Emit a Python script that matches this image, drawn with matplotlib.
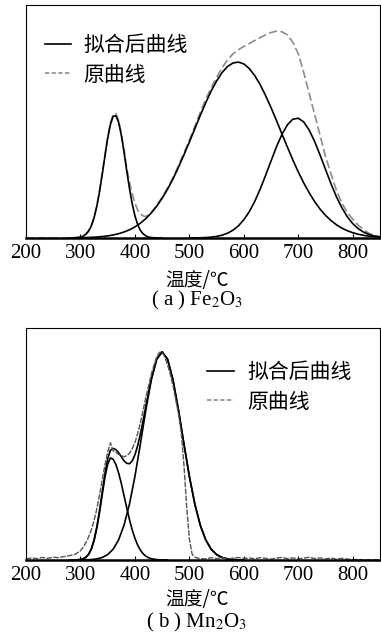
import numpy as np
import matplotlib
matplotlib.use("Agg")
import matplotlib.pyplot as plt

plt.rcParams['font.family'] = ['Liberation Serif', 'Noto Sans CJK SC']
plt.rcParams['mathtext.fontset'] = 'stix'

# ---------------- (a) Fe2O3 ----------------
# original curve (gray dashed)
orig_a_x = [200, 210, 220, 230, 240, 250, 260, 270, 280, 290,
            300, 305, 310, 315, 320, 325, 330, 335, 340, 345, 350, 355, 360, 365, 370,
            375, 380, 385, 390, 395, 400, 405, 410, 415, 420, 425, 430, 435, 440,
            450, 460, 470, 480, 490, 500, 510, 520, 530, 540, 550, 560, 570, 580, 590,
            600, 610, 620, 630, 640, 650, 660, 670, 680, 690, 700, 710, 720, 730, 740,
            750, 760, 770, 780, 790, 800, 810, 820, 830, 840, 850]
orig_a_y = [0, 0, 0, 0, 0, 0, 0, 0, 0.001, 0.002,
            0.005, 0.01, 0.018, 0.032, 0.055, 0.09, 0.14, 0.205, 0.28, 0.36, 0.435, 0.495, 0.53, 0.535, 0.505,
            0.45, 0.38, 0.30, 0.24, 0.19, 0.15, 0.12, 0.104, 0.095, 0.092, 0.1, 0.11, 0.124, 0.14,
            0.175, 0.215, 0.26, 0.31, 0.365, 0.42, 0.48, 0.54, 0.595, 0.645, 0.69, 0.73, 0.765, 0.79, 0.808,
            0.822, 0.835, 0.848, 0.86, 0.872, 0.882, 0.888, 0.885, 0.872, 0.84, 0.79, 0.71, 0.62, 0.53, 0.44,
            0.35, 0.275, 0.205, 0.15, 0.11, 0.08, 0.055, 0.035, 0.02, 0.01, 0.005]

# fitted peaks (black)
pk1_a_x = [280, 285, 290, 295, 300, 305, 310, 315, 320, 325, 330, 335, 340, 345, 350, 355, 360,
           365, 370, 375, 380, 385, 390, 395, 400, 405, 410, 415, 420, 425, 430, 435, 440, 450]
pk1_a_y = [0, 0.0003, 0.0007, 0.0016, 0.0037, 0.0079, 0.016, 0.0296, 0.052, 0.0868, 0.135, 0.198,
           0.273, 0.352, 0.428, 0.487, 0.522, 0.525, 0.497, 0.441, 0.368, 0.288, 0.212, 0.147,
           0.0954, 0.058, 0.033, 0.018, 0.009, 0.0043, 0.002, 0.001, 0, 0]

pk2_a_x = [300, 310, 320, 330, 340, 350, 360, 370, 380, 390, 400, 410, 420, 430, 440, 450,
           460, 470, 480, 490, 500, 510, 520, 530, 540, 550, 560, 570, 580, 590, 600, 610,
           620, 630, 640, 650, 660, 670, 680, 690, 700, 710, 720, 730, 740, 750, 760, 770,
           780, 790, 800, 810, 820, 830, 840, 850]
pk2_a_y = [0.0012, 0.0018, 0.0028, 0.0042, 0.0062, 0.009, 0.013, 0.0184, 0.0257, 0.0353,
           0.0477, 0.0635, 0.0832, 0.1074, 0.1364, 0.1705, 0.21, 0.254, 0.304, 0.357, 0.412,
           0.469, 0.526, 0.58, 0.631, 0.674, 0.71, 0.736, 0.751, 0.755, 0.747, 0.727, 0.697,
           0.658, 0.611, 0.559, 0.504, 0.446, 0.39, 0.335, 0.283, 0.236, 0.194, 0.156, 0.124,
           0.097, 0.075, 0.0568, 0.0424, 0.0312, 0.0226, 0.0161, 0.0113, 0.0078, 0.0053, 0.0035]

pk3_a_x = [500, 510, 520, 530, 540, 550, 560, 570, 580, 590, 600, 610, 620, 630, 640, 650,
           660, 670, 680, 690, 700, 710, 720, 730, 740, 750, 760, 770, 780, 790, 800, 810,
           820, 830, 840, 850]
pk3_a_y = [0.0002, 0.0005, 0.001, 0.0019, 0.0037, 0.0068, 0.012, 0.0205, 0.0333, 0.052,
           0.0785, 0.113, 0.157, 0.21, 0.269, 0.331, 0.392, 0.445, 0.486, 0.51, 0.514, 0.498,
           0.463, 0.414, 0.356, 0.294, 0.233, 0.177, 0.13, 0.091, 0.0617, 0.04, 0.025, 0.015,
           0.0086, 0.0048]

# ---------------- (b) Mn2O3 ----------------
orig_b_x = [200, 210, 220, 230, 240, 250, 260, 270, 280, 290,
            300, 305, 310, 315, 320, 325, 330, 335, 340, 345, 350, 355, 360, 365, 370,
            375, 380, 385, 390, 395, 400, 405, 410, 415, 420, 425, 430, 435, 440, 445,
            450, 455, 460, 465, 470, 475, 480, 485, 490, 495, 500, 505, 510, 515, 520,
            530, 540, 550, 560, 570, 580, 590, 600, 610, 620, 630, 640, 650, 660, 670,
            680, 690, 700, 710, 720, 730, 740, 750, 760, 770, 780, 790, 800, 810, 820,
            830, 840, 850]
orig_b_y = [0.004, 0.009, 0.006, 0.011, 0.007, 0.012, 0.01, 0.015, 0.019, 0.024,
            0.04, 0.055, 0.075, 0.1, 0.13, 0.17, 0.22, 0.28, 0.345, 0.41, 0.465, 0.505, 0.47, 0.465, 0.455,
            0.45, 0.445, 0.45, 0.46, 0.48, 0.505, 0.545, 0.59, 0.645, 0.70, 0.75, 0.80, 0.84, 0.875, 0.895,
            0.895, 0.875, 0.84, 0.80, 0.75, 0.69, 0.63, 0.55, 0.41, 0.23, 0.09, 0.025, 0.012, 0.008, 0.006,
            0.005, 0.01, 0.006, 0.009, 0.004, 0.008, 0.011, 0.006, 0.009, 0.005, 0.01, 0.007, 0.004, 0.008, 0.011,
            0.006, 0.009, 0.005, 0.008, 0.012, 0.006, 0.009, 0.005, 0.008, 0.004, 0.007, 0.004, 0.002, 0.002, 0.001,
            0.001, 0.001, 0.001]

pk1_b_x = [280, 290, 300, 305, 310, 315, 320, 325, 330, 335, 340, 345, 350, 355, 360, 365,
           370, 375, 380, 385, 390, 395, 400, 405, 410, 415, 420, 425, 430, 440, 450, 460]
pk1_b_y = [0, 0.0002, 0.0019, 0.0049, 0.0113, 0.024, 0.0468, 0.0834, 0.137, 0.205, 0.282,
           0.357, 0.413, 0.44, 0.4343, 0.412, 0.376, 0.33, 0.277, 0.225, 0.174, 0.13, 0.0935,
           0.0645, 0.0427, 0.0272, 0.0165, 0.0098, 0.0055, 0.0015, 0.0004, 0]

pk2_b_x = [300, 310, 320, 330, 340, 350, 360, 370, 380, 390, 400, 410, 420, 430, 440, 450,
           460, 470, 480, 490, 500, 510, 520, 530, 540, 550, 560, 570, 580, 590, 600]
pk2_b_y = [0.0002, 0.0007, 0.0019, 0.0047, 0.0108, 0.0233, 0.0465, 0.0867, 0.15, 0.241,
           0.36, 0.5, 0.646, 0.775, 0.865, 0.897, 0.865, 0.775, 0.646, 0.5, 0.36, 0.241, 0.15,
           0.0867, 0.0465, 0.0233, 0.0108, 0.0047, 0.0019, 0.0007, 0.0002]

# envelope of the two fitted peaks
sum_b_x = [290, 300, 305, 310, 315, 320, 325, 330, 335, 340, 345, 350, 355, 360, 365, 370,
           375, 380, 385, 390, 395, 400, 405, 410, 415, 420, 430, 440, 450, 460, 470, 480,
           490, 500, 510, 520, 530, 540, 550, 560, 570, 580, 590, 600]
sum_b_y = [0.0004, 0.0021, 0.0053, 0.012, 0.0252, 0.0487, 0.0864, 0.1417, 0.2122, 0.2928,
           0.373, 0.4363, 0.4732, 0.4808, 0.476, 0.4627, 0.445, 0.427, 0.4167, 0.415, 0.427,
           0.4535, 0.4925, 0.5427, 0.6002, 0.6625, 0.7805, 0.8665, 0.8974, 0.865, 0.775,
           0.646, 0.5, 0.36, 0.241, 0.15, 0.0867, 0.0465, 0.0233, 0.0108, 0.0047, 0.0019,
           0.0007, 0.0002]

xticks = [200, 300, 400, 500, 600, 700, 800]
leg_labels = ['拟合后曲线', '原曲线']
xlab = '温度/℃'
captions = ['( a ) Fe$_2$O$_3$', '( b ) Mn$_2$O$_3$']

W, H = 381, 638
fig = plt.figure(figsize=(W / 100, H / 100), dpi=100)
ax_a = fig.add_axes([26 / W, 1 - 238 / H, 354 / W, 233 / H])
ax_b = fig.add_axes([26 / W, 1 - 560 / H, 354 / W, 232 / H])

fit_kw = dict(color='black', lw=1.2)
orig_kw = dict(color='#8c8c8c', lw=1.2, dashes=(5, 2))

ax_a.plot(orig_a_x, orig_a_y, **orig_kw)
ax_a.plot(pk1_a_x, pk1_a_y, **fit_kw)
ax_a.plot(pk2_a_x, pk2_a_y, **fit_kw)
ax_a.plot(pk3_a_x, pk3_a_y, **fit_kw)

ax_b.plot(sum_b_x, sum_b_y, **fit_kw)
ax_b.plot(pk1_b_x, pk1_b_y, **fit_kw)
ax_b.plot(pk2_b_x, pk2_b_y, **fit_kw)
ax_b.plot(orig_b_x, orig_b_y, color='#555555', lw=1.0, dashes=(4, 1))

for ax in (ax_a, ax_b):
    ax.set_xlim(200, 850)
    ax.set_ylim(0, 1)
    ax.set_xticks(xticks)
    ax.set_yticks([])
    ax.tick_params(axis='x', direction='in', length=3, width=0.8, pad=4, labelsize=15)
    for s in ('left', 'top', 'right'):
        ax.spines[s].set_linewidth(0.8)
    ax.spines['bottom'].set_linewidth(1.8)

# legends
h1, = ax_a.plot([], [], **fit_kw)
h2, = ax_a.plot([], [], color='#8c8c8c', lw=1.2, dashes=(2.5, 1.5))
ax_a.legend([h1, h2], leg_labels, loc='center left', bbox_to_anchor=(0.054, 0.764),
            frameon=False, borderpad=0, borderaxespad=0, handlelength=1.25,
            handletextpad=0.6, labelspacing=0.35, prop={'family': 'Noto Sans CJK SC', 'size': 15})
ax_b.legend([h1, h2], leg_labels, loc='center left', bbox_to_anchor=(0.511, 0.746),
            frameon=False, borderpad=0, borderaxespad=0, handlelength=1.3,
            handletextpad=0.65, labelspacing=0.35, prop={'family': 'Noto Sans CJK SC', 'size': 15})

# axis labels and captions
for yl, yc, cap in ((280, 300, captions[0]), (600, 622, captions[1])):
    fig.text(197 / W, 1 - yl / H, xlab, ha='center', va='center', fontsize=13.5,
             family=['Noto Sans CJK SC', 'Liberation Serif'])
    fig.text(197 / W, 1 - yc / H, cap, ha='center', va='center', fontsize=15)

fig.savefig('out.png', dpi=100)
